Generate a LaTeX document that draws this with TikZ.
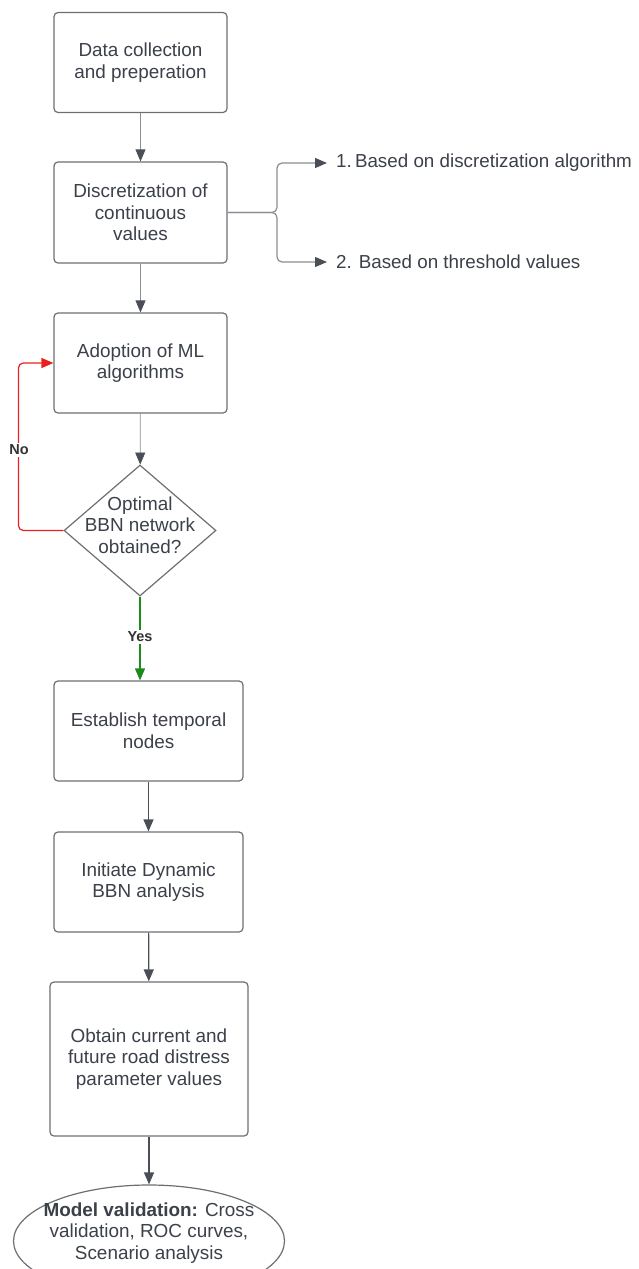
\documentclass[tikz,border=0pt]{standalone}
\usepackage{fontspec}
\setmainfont{Liberation Sans}
\usetikzlibrary{shapes.geometric,arrows.meta}
\definecolor{txt}{HTML}{3B4049}
\definecolor{brd}{HTML}{6B6E73}
\definecolor{lnl}{HTML}{8A8D91}
\definecolor{lnd}{HTML}{4A4F57}
\definecolor{rd}{HTML}{E8211E}
\definecolor{gn}{HTML}{1A8C1A}
\tikzset{
  box/.style={draw=brd, line width=1.2pt, rounded corners=4pt, text=txt, align=center,
    inner sep=0pt, font=\fontsize{18.9}{21.7}\selectfont},
  plain/.style={text=txt, align=center, inner sep=0pt, font=\fontsize{18.9}{21.7}\selectfont},
  side/.style={text=txt, anchor=west, inner xsep=9pt, inner ysep=0pt, font=\fontsize{18.8}{21.7}\selectfont},
  lbl/.style={fill=white, text=black!80, font=\bfseries\fontsize{14.5}{16}\selectfont, inner sep=2pt},
  arrlight/.style={draw=lnl, line width=0.8pt, -{Triangle[length=12pt,width=10pt,fill=lnd,color=lnd]}},
  arrdark/.style={draw=lnd, line width=1.2pt, -{Triangle[length=12pt,width=10pt,fill=lnd,color=lnd]}},
  arrred/.style={draw=rd, line width=1.2pt, rounded corners=5pt, -{Triangle[length=12pt,width=10pt,fill=rd,color=rd]}},
  arrgreen/.style={draw=gn, line width=1.2pt, -{Triangle[length=12pt,width=10pt,fill=gn,color=gn]}},
  brk/.style={draw=lnl, line width=1.2pt, rounded corners=5pt, -{Triangle[length=12pt,width=10pt,fill=lnd,color=lnd]}}
}
\begin{document}
\begin{tikzpicture}[x=1pt,y=-1pt]
\useasboundingbox (0,0) rectangle (639,1269);
\clip (0,0) rectangle (639,1269);

\node[box, minimum width=173pt, minimum height=100pt] (b1) at (140.5,62.5) {Data collection\\and preperation};
\node[box, minimum width=173pt, minimum height=101pt] (b2) at (140.5,212.5) {Discretization of\\continuous\\values};
\node[box, minimum width=173pt, minimum height=100pt] (b3) at (140.5,363) {Adoption of ML\\algorithms};
\node[draw=brd, line width=1.2pt, diamond, minimum width=152pt, minimum height=131pt, inner sep=0pt] (d) at (140,530.5) {};
\node[plain] (dt) at (140,525) {Optimal\\BBN network\\obtained?};
\node[box, minimum width=189pt, minimum height=100pt] (b4) at (148.5,731) {Establish temporal\\nodes};
\node[box, minimum width=189pt, minimum height=100pt] (b5) at (148.5,882) {Initiate Dynamic\\BBN analysis};
\node[box, minimum width=198pt, minimum height=154pt] (b6) at (149,1059) {Obtain current and\\future road distress\\parameter values};
\node[draw=brd, line width=1.2pt, ellipse, minimum width=271pt, minimum height=112pt, inner sep=0pt] (e) at (149,1241) {};
\node[plain] (et) at (149,1233) {\textbf{Model validation:} Cross\\validation, ROC curves,\\Scenario analysis};

\node[side] (s1) at (327,163) {1.\,Based on discretization algorithm};
\node[side] (s2) at (327,262) {2. Based on threshold values};
\coordinate (j) at (277,212.5);

\draw[arrlight] (b1) -- (b2);
\draw[arrlight] (b2) -- (b3);
\draw[arrlight] (b3) -- (d);
\draw[brk] (b2.east) -- (j) |- (s1.west);
\draw[brk] (b2.east) -- (j) |- (s2.west);

\draw[arrred] (d.west) -- ++(-45,0) |- (b3.west);
\node[lbl] (no) at (19,450) {No};
\draw[arrgreen] (d.south) -- (d.south |- b4.north);
\node[lbl] (yes) at (140,637) {Yes};

\draw[arrdark] (b4) -- (b5);
\draw[arrdark] (b5) -- (b6);
\draw[arrdark] (b6) -- (e);
\end{tikzpicture}
\end{document}
